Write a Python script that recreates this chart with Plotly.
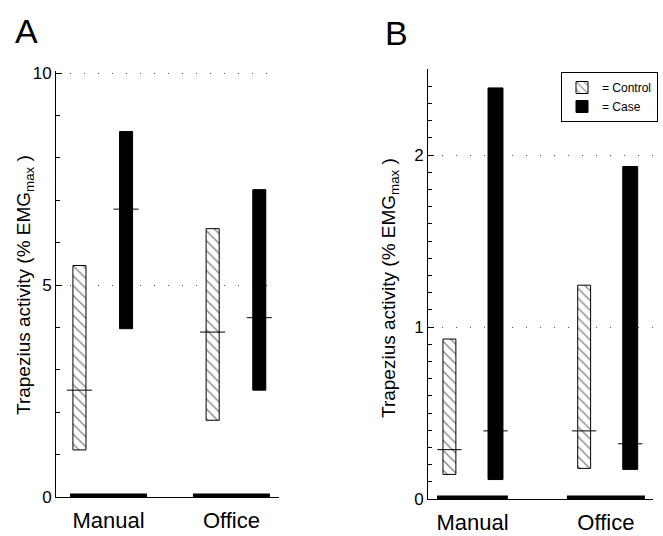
import plotly.graph_objects as go

# ---- data (% EMGmax): range bars (low/high) with median marks ----
groups = ["Manual", "Office"]

a_control_low = [1.11, 1.81]
a_control_high = [5.46, 6.33]
a_control_med = [2.52, 3.89]
a_case_low = [3.97, 2.52]
a_case_high = [8.62, 7.25]
a_case_med = [6.79, 4.23]

b_control_low = [0.143, 0.178]
b_control_high = [0.93, 1.243]
b_control_med = [0.287, 0.396]
b_case_low = [0.113, 0.172]
b_case_high = [2.39, 1.933]
b_case_med = [0.396, 0.321]

zero_level = [0, 0]

a_ymax, a_ystep, a_minor = 10, 5, 1
b_ymax, b_ystep, b_minor = 2.5, 1, 0.1

FONT = "Liberation Sans, Arial, sans-serif"
W, H = 663, 536

# ---- panel geometry (group index units) ----
panels = {
    "A": dict(xa="x", ya="y", off=0.175, wctl=0.098, wcase=0.098, mhalf=0.094,
              zero_spans=[(-0.246, 0.332), (-0.323, 0.255)],
              control=(a_control_low, a_control_high, a_control_med),
              case=(a_case_low, a_case_high, a_case_med), legend=False),
    "B": dict(xa="x2", ya="y2", off=0.171, wctl=0.096, wcase=0.111, mhalf=0.09,
              zero_spans=[(-0.263, 0.263), (-0.299, 0.28)],
              control=(b_control_low, b_control_high, b_control_med),
              case=(b_case_low, b_case_high, b_case_med), legend=True),
}

fig = go.Figure()
gx = list(range(len(groups)))

for name, p in panels.items():
    # zero-level strips along the baseline
    zx, zy = [], []
    for g, (lo, hi), z in zip(gx, p["zero_spans"], zero_level):
        zx += [g + lo, g + hi, None]
        zy += [z, z, None]
    fig.add_trace(go.Scatter(x=zx, y=zy, mode="lines", xaxis=p["xa"], yaxis=p["ya"],
                             line=dict(color="black", width=7), cliponaxis=False,
                             showlegend=False, hoverinfo="skip"))

    for series, sign, width, style in [
        ("control", -1, p["wctl"], "hatch"),
        ("case", 1, p["wcase"], "solid"),
    ]:
        low, high, med = p[series]
        xs = [g + sign * p["off"] for g in gx]
        if style == "hatch":
            marker = dict(color="white", line=dict(color="black", width=1),
                          pattern=dict(shape="\\", fgcolor="black", bgcolor="white",
                                       size=7, solidity=0.18))
            label = "= Control"
        else:
            marker = dict(color="black", line=dict(color="black", width=1))
            label = "= Case"
        fig.add_trace(go.Bar(x=xs, base=low, y=[h - l for l, h in zip(low, high)],
                             width=width, marker=marker, name=label,
                             xaxis=p["xa"], yaxis=p["ya"],
                             showlegend=p["legend"], legendgroup=series))
        # median marks
        mx, my = [], []
        for x, m in zip(xs, med):
            mx += [x - p["mhalf"], x + p["mhalf"], None]
            my += [m, m, None]
        fig.add_trace(go.Scatter(x=mx, y=my, mode="lines", xaxis=p["xa"], yaxis=p["ya"],
                                 line=dict(color="black", width=1),
                                 showlegend=False, hoverinfo="skip"))

ytitle = "Trapezius activity (% EMG<sub>max</sub> )"
common_y = dict(showline=True, linecolor="black", linewidth=1,
                ticks="inside", ticklen=6, tickwidth=1, tickcolor="black",
                zeroline=False, automargin=False, tickmode="linear", tick0=0,
                showgrid=True, gridcolor="#555", gridwidth=1, griddash="1px,13px",
                tickfont=dict(size=17, color="black", family=FONT))
common_x = dict(showline=True, linecolor="black", linewidth=1, ticks="",
                showgrid=False, zeroline=False, automargin=False,
                ticklabelstandoff=4,
                tickfont=dict(size=22, color="black", family=FONT))

fig.update_layout(
    width=W, height=H, margin=dict(l=0, r=0, t=0, b=0, autoexpand=False),
    paper_bgcolor="white", plot_bgcolor="white", barmode="overlay",
    font=dict(family=FONT, color="black"),
    xaxis=dict(domain=[56 / W, 279 / W], range=[-0.351, 1.323], anchor="y",
               tickvals=[0.043, 0.966], ticktext=groups, **common_x),
    yaxis=dict(domain=[39 / H, 465.5 / H], range=[0, a_ymax + 0.06], anchor="x",
               dtick=a_ystep,
               minor=dict(dtick=a_minor, tick0=0, ticks="inside", ticklen=4,
                          tickwidth=1, tickcolor="black", showgrid=False),
               **common_y),
    xaxis2=dict(domain=[428 / W, 653 / W], range=[-0.33, 1.34], anchor="y2",
                tickvals=[0, 0.99], ticktext=groups, **common_x),
    yaxis2=dict(domain=[37 / H, 467 / H], range=[0, b_ymax], anchor="x2",
                dtick=b_ystep,
                minor=dict(dtick=b_minor, tick0=0, ticks="inside", ticklen=4,
                           tickwidth=1, tickcolor="black", showgrid=False),
                **common_y),
    legend=dict(x=658 / W, xanchor="right", y=1 - 72 / H, yanchor="top",
                bordercolor="black", borderwidth=1, bgcolor="white",
                font=dict(size=12, color="black", family=FONT),
                itemwidth=30, tracegroupgap=0),
    annotations=[
        dict(text="A", x=13 / W, y=1 - 10 / H, xref="paper", yref="paper",
             xanchor="left", yanchor="top", showarrow=False,
             font=dict(size=34, family=FONT, color="black")),
        dict(text="B", x=383 / W, y=1 - 12 / H, xref="paper", yref="paper",
             xanchor="left", yanchor="top", showarrow=False,
             font=dict(size=34, family=FONT, color="black")),
        # y-axis titles
        dict(text=ytitle, x=25 / W, y=1 - 285 / H, xref="paper", yref="paper",
             xanchor="center", yanchor="middle", textangle=-90, showarrow=False,
             font=dict(size=19, family=FONT, color="black")),
        dict(text=ytitle, x=390 / W, y=1 - 288 / H, xref="paper", yref="paper",
             xanchor="center", yanchor="middle", textangle=-90, showarrow=False,
             font=dict(size=19, family=FONT, color="black")),
    ],
)

fig.write_html("out.html")
